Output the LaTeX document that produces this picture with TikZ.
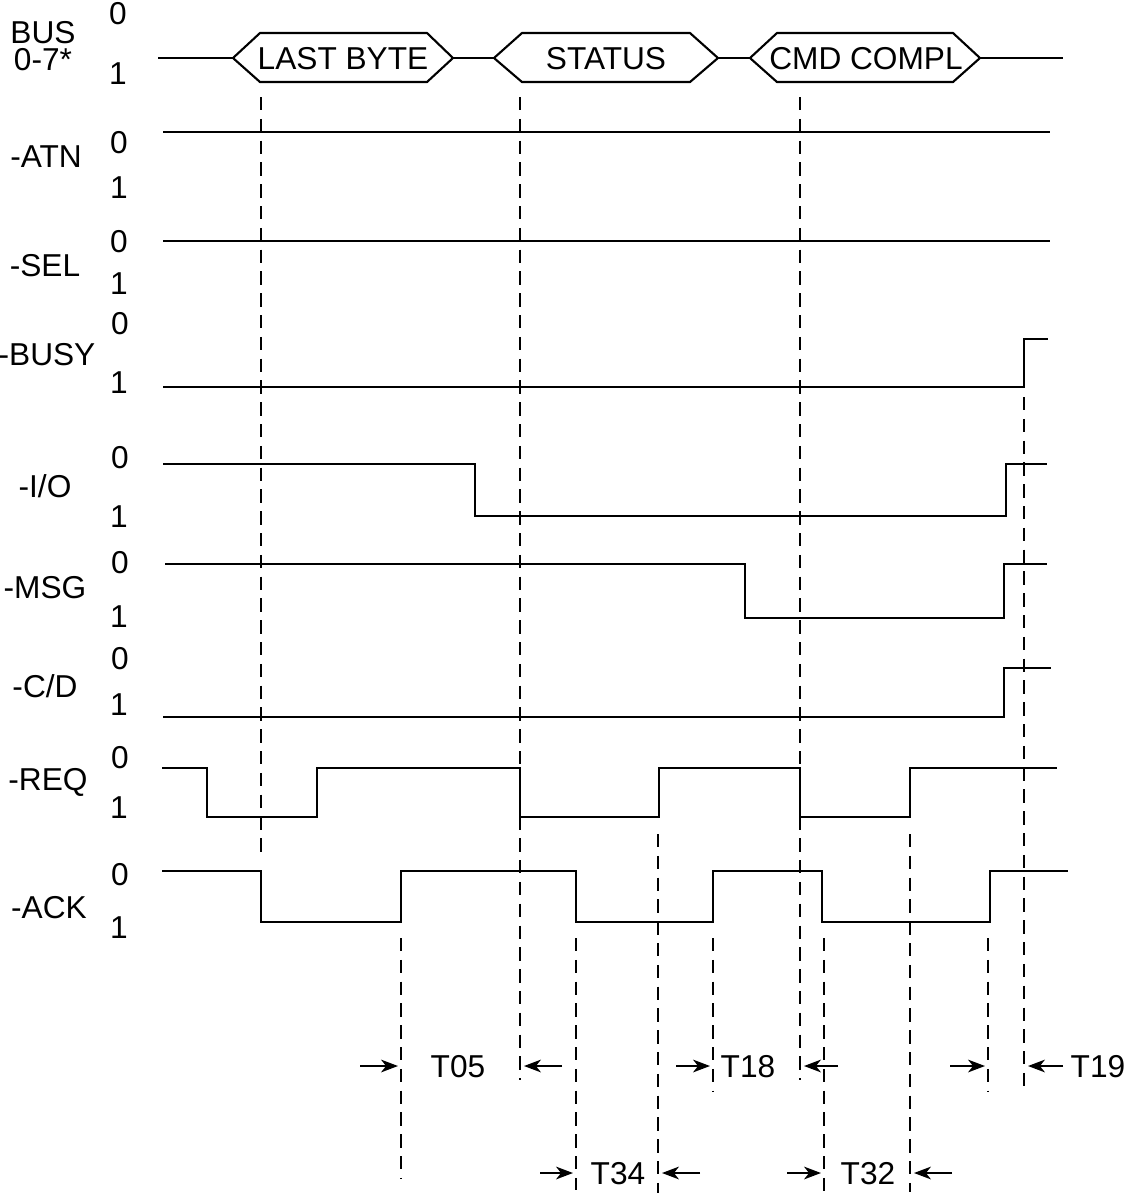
\documentclass[tikz,border=0pt]{standalone}
\usepackage{fontspec}
\setmainfont{Liberation Sans}
\usetikzlibrary{positioning, arrows.meta}

\begin{document}
\begin{tikzpicture}[
    x=0.01cm, y=-0.01cm, % one unit = one pixel of the sheet
    font=\fontsize{9}{10}\selectfont,
    wave/.style={line width=0.6pt, line join=miter},
    guide/.style={line width=0.55pt, dash pattern=on 3.8pt off 2.4pt},
    arrowstyle/.style={-{Stealth[length=4.8pt, width=3.6pt, inset=1.4pt]}, line width=0.6pt},
    sname/.style={inner sep=0pt, anchor=center},
    lvl/.style={inner sep=0pt, anchor=center},
    tname/.style={inner sep=0pt, anchor=center}
]
\useasboundingbox (0,0) rectangle (1135,1193);

% Signal names and levels
\node[sname] (bus) at (43,33) {BUS};
\node[sname] (busb) at (43,60) {0-7*};
\node[lvl] (bus0) at (118,14) {0};
\node[lvl] (bus1) at (118,74) {1};

\node[sname] (atn) at (46,157) {-ATN};
\node[lvl] (atn0) at (119,143) {0};
\node[lvl] (atn1) at (119,188) {1};

\node[sname] (sel) at (45,266) {-SEL};
\node[lvl] (sel0) at (119,242) {0};
\node[lvl] (sel1) at (119,284) {1};

\node[sname] (busy) at (47,355) {-BUSY};
\node[lvl] (busy0) at (120,324) {0};
\node[lvl] (busy1) at (119,383) {1};

\node[sname] (io) at (45,486) {-I/O};
\node[lvl] (io0) at (120,458) {0};
\node[lvl] (io1) at (119,517) {1};

\node[sname] (msg) at (45,588) {-MSG};
\node[lvl] (msg0) at (120,563) {0};
\node[lvl] (msg1) at (119,617) {1};

\node[sname] (cd) at (45,686) {-C/D};
\node[lvl] (cd0) at (120,659) {0};
\node[lvl] (cd1) at (119,705) {1};

\node[sname] (req) at (48,782) {-REQ};
\node[lvl] (req0) at (120,758) {0};
\node[lvl] (req1) at (119,808) {1};

\node[sname] (ack) at (49,908) {-ACK};
\node[lvl] (ack0) at (120,875) {0};
\node[lvl] (ack1) at (119,928) {1};

% Bus phases
\draw[wave] (158,58) -- (233,58) (453,58) -- (494,58) (718,58) -- (750,58) (980,58) -- (1063,58);
\draw[wave] (233,58) -- (260,33) -- (427,33) -- (453,58) -- (427,82) -- (260,82) -- cycle;
\draw[wave] (494,58) -- (522,33) -- (690,33) -- (718,58) -- (690,82) -- (522,82) -- cycle;
\draw[wave] (750,58) -- (777,33) -- (953,33) -- (980,58) -- (953,82) -- (777,82) -- cycle;
\node[tname] (lastbyte) at (343,59) {LAST BYTE};
\node[tname] (status) at (606,59) {STATUS};
\node[tname] (cmdcompl) at (866,59) {CMD COMPL};

% Waveforms
\draw[wave] (163,132) -- (1050,132);
\draw[wave] (163,241) -- (1050,241);
\draw[wave] (163,387) -- (1024,387) -- (1024,339) -- (1048,339);
\draw[wave] (163,464) -- (475,464) -- (475,516) -- (1006,516) -- (1006,464) -- (1047,464);
\draw[wave] (165,564) -- (745,564) -- (745,618) -- (1004,618) -- (1004,564) -- (1047,564);
\draw[wave] (163,717) -- (1004,717) -- (1004,668) -- (1051,668);
\draw[wave] (162,768) -- (207,768) -- (207,817) -- (317,817) -- (317,768) -- (520,768)
    -- (520,817) -- (659,817) -- (659,768) -- (800,768) -- (800,817) -- (910,817)
    -- (910,768) -- (1057,768);
\draw[wave] (162,871) -- (261,871) -- (261,922) -- (401,922) -- (401,871) -- (576,871)
    -- (576,922) -- (713,922) -- (713,871) -- (822,871) -- (822,922) -- (990,922)
    -- (990,871) -- (1068,871);

% Reference lines
\draw[guide] (261,97) -- (261,858);
\draw[guide] (520,97) -- (520,1080);
\draw[guide] (800,97) -- (800,1080);
\draw[guide] (1024,397) -- (1024,1089);
\draw[guide] (401,938) -- (401,1178);
\draw[guide] (576,938) -- (576,1190);
\draw[guide] (658,834) -- (658,1193);
\draw[guide] (713,938) -- (713,1092);
\draw[guide] (824,938) -- (824,1192);
\draw[guide] (910,834) -- (910,1192);
\draw[guide] (988,938) -- (988,1092);

% Timing marks
\coordinate (t05a) at (398,1066);
\coordinate (t05b) at (524,1066);
\coordinate (t18a) at (710,1066);
\coordinate (t18b) at (804,1066);
\coordinate (t19a) at (985,1066);
\coordinate (t19b) at (1028,1066);
\coordinate (t34a) at (573,1173);
\coordinate (t34b) at (662,1173);
\coordinate (t32a) at (821,1173);
\coordinate (t32b) at (914,1173);

\draw[arrowstyle] (360,1066) -- (t05a);
\draw[arrowstyle] (562,1066) -- (t05b);
\node[tname] (t05) at (458,1067) {T05};

\draw[arrowstyle] (676,1066) -- (t18a);
\draw[arrowstyle] (838,1066) -- (t18b);
\node[tname] (t18) at (748,1067) {T18};

\draw[arrowstyle] (950,1066) -- (t19a);
\draw[arrowstyle] (1063,1066) -- (t19b);
\node[tname] (t19) at (1098,1067) {T19};

\draw[arrowstyle] (540,1173) -- (t34a);
\draw[arrowstyle] (700,1173) -- (t34b);
\node[tname] (t34) at (618,1174) {T34};

\draw[arrowstyle] (787,1173) -- (t32a);
\draw[arrowstyle] (952,1173) -- (t32b);
\node[tname] (t32) at (868,1174) {T32};

\end{tikzpicture}
\end{document}
